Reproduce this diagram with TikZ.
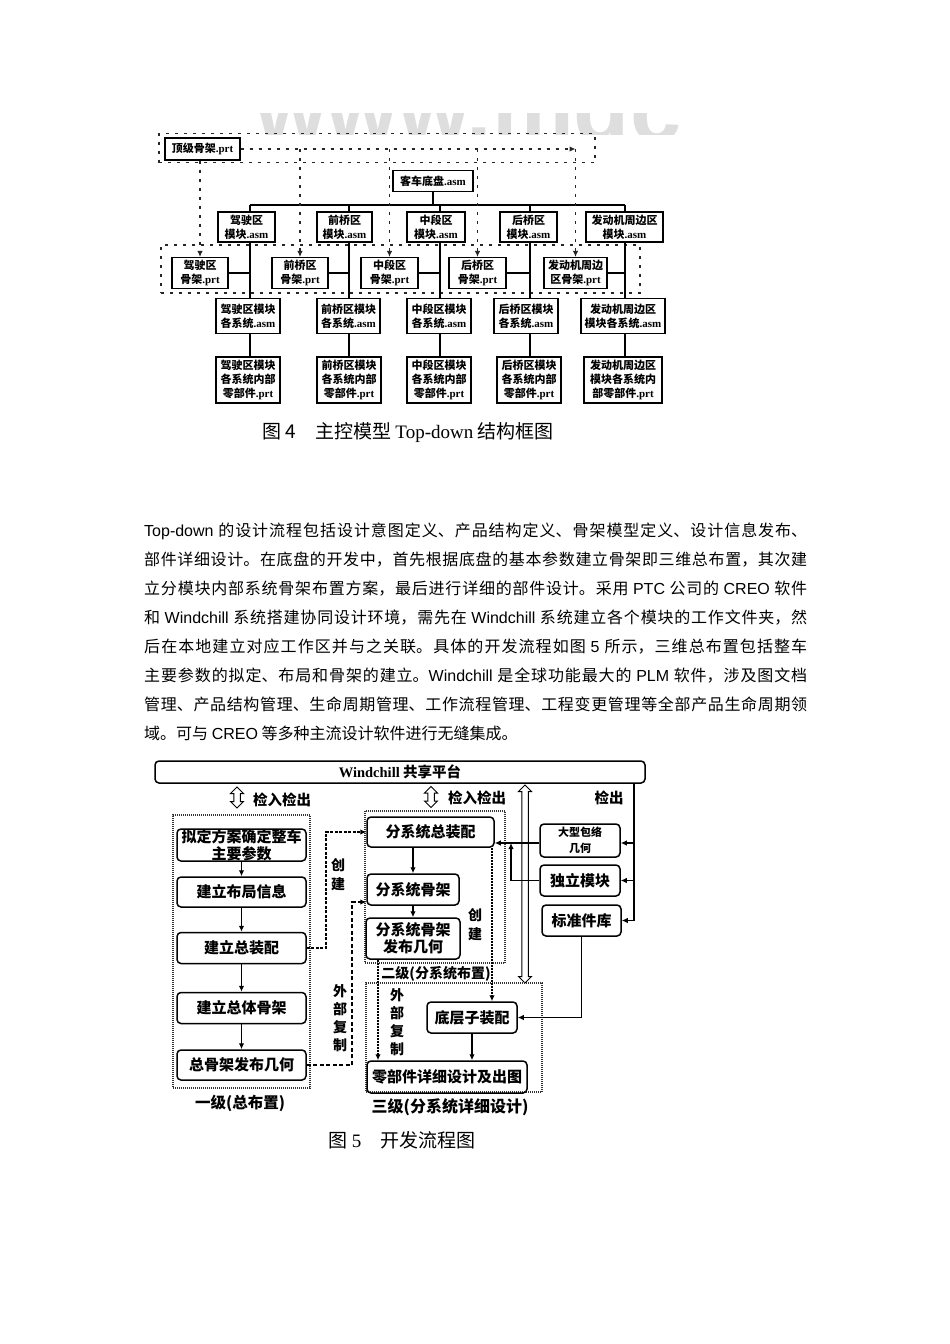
\documentclass[tikz,border=0pt]{standalone}
\usepackage{fontspec}
\setmainfont{Noto Sans CJK SC}
\newfontfamily\latsans{Liberation Sans}
\newfontfamily\latserif{Liberation Serif}
\usetikzlibrary{arrows.meta,shapes.arrows}
\XeTeXlinebreaklocale "zh"
\XeTeXlinebreakskip=0pt plus 1.5pt
\newcommand{\en}[1]{{\latsans #1}}
\newcommand{\ext}[1]{{\latserif\bfseries #1}}
\tikzset{
  bodyline/.style={anchor=west,inner sep=0,text width=663pt,align=justify,font=\fontsize{16}{20}\selectfont},
  xbox/.style={draw,line width=1.2pt,align=center,inner sep=0,font=\fontsize{11}{14}\selectfont\bfseries},
  rbox/.style={draw,line width=1.5pt,rounded corners=4pt,align=center,inner sep=0,font=\fontsize{15}{17}\selectfont\bfseries},
  solidline/.style={line width=1.3pt},
  flowline/.style={line width=1.7pt},
  dashline/.style={line width=1.1pt,black!85,dash pattern=on 3pt off 6pt},
  groupbox/.style={draw,line width=1.1pt,black!85,dash pattern=on 3pt off 6pt,inner sep=0},
  dotbox/.style={draw,line width=1.3pt,black!80,dash pattern=on 1pt off 1pt,inner sep=0},
  flowdash/.style={line width=1.5pt,dash pattern=on 3pt off 1.5pt},
  finedash/.style={line width=1.5pt,dash pattern=on 2pt off 1pt},
  dblarrow/.style={draw,line width=1pt,shape=double arrow,shape border rotate=90,minimum width=13pt,inner sep=2pt,double arrow head extend=2.5pt},
  label/.style={inner sep=0,align=center,font=\fontsize{14.5}{17}\selectfont\bfseries},
  caption/.style={inner sep=0,font=\fontsize{19}{22}\selectfont}
}
\begin{document}
\begin{tikzpicture}[x=1pt,y=-1pt,>={Latex[length=6pt,width=5.5pt]}]
\useasboundingbox[fill=white] (0,0) rectangle (950,1344);
%watermark
\begin{scope}
\clip (255,113) rectangle (682,134);
\node[inner sep=0,anchor=base west,text=black!13,font=\fontsize{92}{92}\selectfont\latsans\bfseries] (mark) at (255,141) {www.mgc};
\end{scope}
%figure 4 top
\node[groupbox,minimum width=436pt,minimum height=29pt] (topgroup) at (377,148) {};
\node[xbox,minimum width=75pt,minimum height=22pt] (top) at (202.5,149) {顶级骨架\ext{.prt}};
\node[xbox,minimum width=80pt,minimum height=21pt] (chassis) at (433,181) {客车底盘\ext{.asm}};
%modules
\foreach \i/\xa/\xb/\txt in {1/218/275/{驾驶区\\模块\ext{.asm}},2/317/372/{前桥区\\模块\ext{.asm}},3/407/465/{中段区\\模块\ext{.asm}},4/500/557/{后桥区\\模块\ext{.asm}},5/586/663/{发动机周边区\\模块\ext{.asm}}}
  \node[xbox,minimum width={(\xb-\xa)*1pt},minimum height=30pt] (mod\i) at ({(\xa+\xb)/2},227) {\txt};
%skeleton row
\node[groupbox,minimum width=479pt,minimum height=48pt] (skegroup) at (400.5,269) {};
\foreach \i/\xa/\xb/\txt in {1/172/228/{驾驶区\\骨架\ext{.prt}},2/272/328/{前桥区\\骨架\ext{.prt}},3/361/418/{中段区\\骨架\ext{.prt}},4/449/506/{后桥区\\骨架\ext{.prt}},5/544/607/{发动机周边\\区骨架\ext{.prt}}}
  \node[xbox,minimum width={(\xb-\xa)*1pt},minimum height=31pt] (ske\i) at ({(\xa+\xb)/2},273) {\txt};
%systems
\foreach \i/\xa/\xb/\txt in {1/216/280/{驾驶区模块\\各系统\ext{.asm}},2/317/380/{前桥区模块\\各系统\ext{.asm}},3/407/471/{中段区模块\\各系统\ext{.asm}},4/494/558/{后桥区模块\\各系统\ext{.asm}},5/581/665/{发动机周边区\\模块各系统\ext{.asm}}}
  \node[xbox,minimum width={(\xb-\xa)*1pt},minimum height=35pt] (sys\i) at ({(\xa+\xb)/2},316) {\txt};
%parts
\foreach \i/\xa/\xb/\txt in {1/216/280/{驾驶区模块\\各系统内部\\零部件\ext{.prt}},2/317/381/{前桥区模块\\各系统内部\\零部件\ext{.prt}},3/407/471/{中段区模块\\各系统内部\\零部件\ext{.prt}},4/497/561/{后桥区模块\\各系统内部\\零部件\ext{.prt}},5/584/662/{发动机周边区\\模块各系统内\\部零部件\ext{.prt}}}
  \node[xbox,minimum width={(\xb-\xa)*1pt},minimum height=46pt] (part\i) at ({(\xa+\xb)/2},380) {\txt};
%trunks
\foreach \i/\tx in {1/250,2/349,3/440,4/530,5/625}{
  \coordinate (trunk\i) at (\tx,205);
  \draw[solidline] (trunk\i) -- (trunk\i |- mod\i.north);
  \draw[solidline] (trunk\i |- mod\i.south) -- (trunk\i |- sys\i.north);
  \draw[solidline] (ske\i.east) -- (trunk\i |- ske\i.east);
  \draw[solidline] (trunk\i |- sys\i.south) -- (trunk\i |- part\i.north);
}
\draw[solidline] (trunk1) -- (trunk5);
\draw[solidline] (chassis.south) -- (chassis.south |- trunk1);
%dashed links
\draw[dashline,->] (top.east) -- (ske5 |- top);
\draw[dashline,->] (ske1 |- top.south) -- (ske1.north);
\foreach \i in {2,3,4,5}
  \draw[dashline,->] (ske\i |- top) -- (ske\i.north);
\node[caption] (cap4) at (408,433) {图 4\quad 主控模型 {\latserif Top-down} 结构框图};
%body text
\node[bodyline] (line1) at (144,531) {\parfillskip=0pt \en{Top-down} 的设计流程包括设计意图定义、产品结构定义、骨架模型定义、设计信息发布、\par};
\node[bodyline] (line2) at (144,560) {\parfillskip=0pt 部件详细设计。在底盘的开发中，首先根据底盘的基本参数建立骨架即三维总布置，其次建\par};
\node[bodyline] (line3) at (144,589) {\parfillskip=0pt 立分模块内部系统骨架布置方案，最后进行详细的部件设计。采用 \en{PTC} 公司的 \en{CREO} 软件\par};
\node[bodyline] (line4) at (144,618) {\parfillskip=0pt 和 \en{Windchill} 系统搭建协同设计环境，需先在 \en{Windchill} 系统建立各个模块的工作文件夹，然\par};
\node[bodyline] (line5) at (144,647) {\parfillskip=0pt 后在本地建立对应工作区并与之关联。具体的开发流程如图 \en{5} 所示，三维总布置包括整车\par};
\node[bodyline] (line6) at (144,676) {\parfillskip=0pt 主要参数的拟定、布局和骨架的建立。\en{Windchill} 是全球功能最大的 \en{PLM} 软件，涉及图文档\par};
\node[bodyline] (line7) at (144,704) {\parfillskip=0pt 管理、产品结构管理、生命周期管理、工作流程管理、工程变更管理等全部产品生命周期领\par};
\node[bodyline] (line8) at (144,733) {域。可与 \en{CREO} 等多种主流设计软件进行无缝集成。\par};
%figure 5 platform
\node[rbox,minimum width=490pt,minimum height=22pt,font=\fontsize{14.5}{17}\selectfont\bfseries] (platform) at (400,772) {\ext{Windchill} 共享平台};
\node[dblarrow,minimum height=21pt] (inA) at (237,797.5) {};
\node[label] (inlabelA) at (282,800) {检入检出};
\node[dblarrow,minimum height=21pt] (inB) at (431,797) {};
\node[label] (inlabelB) at (477,798) {检入检出};
\node[dblarrow,minimum height=198pt] (tall) at (525,884) {};
\node[label] (outlabel) at (609,798) {检出};
%level 1
\node[dotbox,minimum width=137pt,minimum height=273pt] (groupA) at (241.5,951.5) {};
\node[rbox,minimum width=129pt,minimum height=32pt] (planA) at (241.5,845) {拟定方案确定整车\\主要参数};
\node[rbox,minimum width=129pt,minimum height=30pt] (layoutA) at (241.5,892) {建立布局信息};
\node[rbox,minimum width=129pt,minimum height=31pt] (asmA) at (241.5,948) {建立总装配};
\node[rbox,minimum width=129pt,minimum height=31pt] (skeA) at (241.5,1008) {建立总体骨架};
\node[rbox,minimum width=129pt,minimum height=30pt] (pubA) at (241.5,1065) {总骨架发布几何};
\node[label,font=\fontsize{15.5}{18}\selectfont\bfseries] (labelA) at (240,1103) {一级(总布置)};
\draw[flowline,->] (planA) -- (layoutA);
\draw[flowline,->] (layoutA) -- (asmA);
\draw[flowline,->] (asmA) -- (skeA);
\draw[flowline,->] (skeA) -- (pubA);
%level 2
\node[dotbox,minimum width=140pt,minimum height=152pt] (groupB) at (435,887) {};
\node[rbox,minimum width=127pt,minimum height=30pt] (asmB) at (430.5,832) {分系统总装配};
\node[rbox,minimum width=92pt,minimum height=31pt] (skeB) at (413,889.5) {分系统骨架};
\node[rbox,minimum width=94pt,minimum height=41pt] (pubB) at (413,938.5) {分系统骨架\\发布几何};
\node[label,font=\fontsize{14}{17}\selectfont\bfseries] (labelB) at (436,974) {二级(分系统布置)};
\node[label,font=\fontsize{14}{19}\selectfont\bfseries] (makeB) at (475,925) {创\\建};
\draw[flowline,->] (asmB.south -| skeB) -- (skeB);
\draw[flowline,->] (skeB) -- (pubB);
%level 3
\node[dotbox,minimum width=176pt,minimum height=109pt] (groupC) at (454,1037.5) {};
\node[rbox,minimum width=90pt,minimum height=31pt] (subC) at (472,1017.5) {底层子装配};
\node[rbox,minimum width=160pt,minimum height=32pt] (detailC) at (447,1077) {零部件详细设计及出图};
\node[label,font=\fontsize{16}{18}\selectfont\bfseries] (labelC) at (450,1107) {三级(分系统详细设计)};
\node[label,font=\fontsize{14}{18}\selectfont\bfseries] (copyC) at (397,1022) {外\\部\\复\\制};
\draw[flowline,->] (subC) -- (subC |- detailC.north);
\coordinate (pubdrop) at (378,1000);
\draw[finedash,->] (pubB.south -| pubdrop) -- (detailC.north -| pubdrop);
\coordinate (asmdrop) at (492,900);
\draw[finedash,->] (asmB.south -| asmdrop) -- (subC.north -| asmdrop);
%library boxes
\node[rbox,minimum width=80pt,minimum height=33pt,font=\fontsize{11}{16}\selectfont\bfseries] (envelope) at (580,840.5) {大型包络\\几何};
\node[rbox,minimum width=80pt,minimum height=31pt] (solo) at (580,880.5) {独立模块};
\node[rbox,minimum width=79pt,minimum height=31pt] (stdlib) at (581.5,920.5) {标准件库};
\coordinate (bus) at (634,800);
\coordinate (envrow) at (0,843);
\draw[flowline] (bus |- platform.south) -- (bus |- stdlib);
\draw[flowline,->] (bus |- stdlib) -- (stdlib.east);
\draw[flowline,->] (bus |- solo) -- (solo.east);
\draw[flowline,->] (bus |- envrow) -- (envelope.east |- envrow);
\draw[flowline,->] (envelope.west |- envrow) -- (asmB.east |- envrow);
\coordinate (riser) at (511,860);
\draw[flowline] (solo.west) -- (riser |- solo);
\draw[flowline,->] (riser |- solo) -- (riser |- envrow);
\draw[flowline,->] (stdlib.south) -- (stdlib.south |- subC) -- (subC.east);
%links between levels
\coordinate (linkA) at (326,900);
\draw[flowdash,->] (asmA.east) -- (linkA |- asmA) -- (linkA |- asmB) -- (asmB.west);
\coordinate (linkB) at (352,1000);
\coordinate (skerow) at (0,902);
\draw[flowdash,dash pattern=on 4pt off 2.5pt,->] (pubA.east) -- (linkB |- pubA) -- (linkB |- skerow) -- (skeB.west |- skerow);
\node[label,font=\fontsize{14}{19}\selectfont\bfseries] (makeA) at (338,875) {创\\建};
\node[label,font=\fontsize{14}{18}\selectfont\bfseries] (copyA) at (340,1018) {外\\部\\复\\制};
\node[caption] (cap5) at (402,1140) {图 {\latserif 5}\quad 开发流程图};
\end{tikzpicture}
\end{document}
